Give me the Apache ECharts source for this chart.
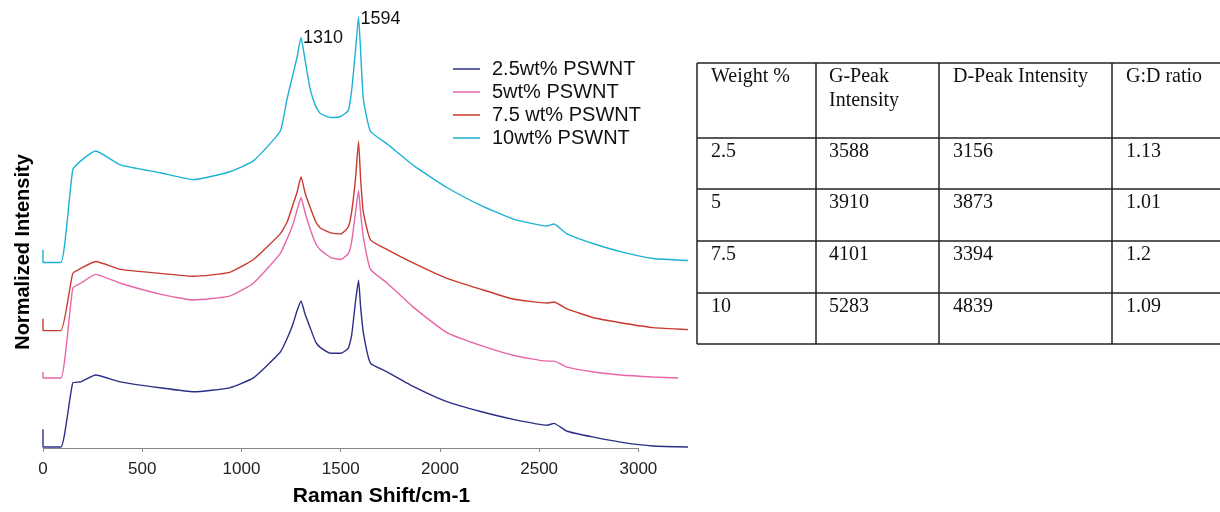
<!DOCTYPE html>
<html>
<head>
<meta charset="utf-8">
<script src="https://cdn.jsdelivr.net/npm/echarts@6/dist/echarts.min.js"></script>
<style>
html,body{margin:0;padding:0;background:#fff;}
#chart{width:1220px;height:512px;}
</style>
</head>
<body>
<div id="chart"></div>
<script>
// Raman shift (cm-1) sample positions
const ramanShift = [0,0,90,150,190,265,390,590,760,940,1060,1195,1230,1260,1280,1300,1320,1346,1375,1397,1450,1500,1538,1555,1575,1590,1600,1614,1650,1735,1870,2035,2205,2370,2540,2575,2640,2775,2910,3075,3250];
const pinkLastShift = 3200;

// Normalized intensity (arbitrary, offset) for each sample
const int2p5 = [19,1,1,66,67,74,67,61,57,61,71,97,111,126,139,149,136,122,107,102,96,96,101,114,149,170,144,117,86,77,62,47,37,29,23,25,17,11,6,2,1];
const int5   = [77,71,71,162,167,176,167,156,150,154,167,197,212,227,241,254,239,222,207,201,193,191,197,209,239,261,239,214,181,167,142,117,104,94,88,88,82,77,74,72,71];
const int7p5 = [131,119,119,177,182,189,181,177,174,178,191,217,229,247,259,275,259,244,229,223,218,217,224,239,274,311,274,239,211,201,187,172,161,151,147,148,141,132,127,122,120];
const int10  = [201,188,188,282,291,301,287,279,272,280,291,321,354,379,396,416,394,364,346,339,335,336,342,362,404,437,404,354,321,308,286,264,246,232,225,227,217,207,199,192,190];

const seriesNames = ['2.5wt% PSWNT','5wt% PSWNT','7.5 wt% PSWNT','10wt% PSWNT'];
const seriesColors = ['#2b2f86','#e866a8','#c8392e','#1bb2d4'];

// peak annotations on the 10wt% curve
const peakShifts = [1300, 1590];
const peakLabels = ['1310', '1594'];

const xTicks = [0,500,1000,1500,2000,2500,3000];
const xMax = 3250;

// table
const tableHeader = [['Weight %'], ['G-Peak','Intensity'], ['D-Peak Intensity'], ['G:D ratio']];
const weights = ['2.5','5','7.5','10'];
const gPeak = ['3588','3910','4101','5283'];
const dPeak = ['3156','3873','3394','4839'];
const gdRatio = ['1.13','1.01','1.2','1.09'];

function pairs(ys, lastX) {
  return ys.map((y, i) => {
    let x = ramanShift[i];
    if (lastX !== undefined && i === ys.length - 1) x = lastX;
    return [x, y];
  });
}

const allData = [pairs(int2p5), pairs(int5, pinkLastShift), pairs(int7p5), pairs(int10)];

const series = allData.map((d, i) => ({
  name: seriesNames[i],
  type: 'line',
  data: d,
  symbol: 'none',
  smooth: 0.15,
  lineStyle: { color: seriesColors[i], width: 1.4 },
  itemStyle: { color: seriesColors[i] },
  emphasis: { disabled: true },
  animation: false
}));

// peak labels as markPoints on the 10wt% series
series[3].markPoint = {
  symbol: 'circle', symbolSize: 0, silent: true, animation: false,
  data: peakShifts.map((s, k) => ({
    coord: [s, int10[ramanShift.indexOf(s)]],
    label: { show: true, formatter: peakLabels[k], position: 'right', distance: 2,
      fontFamily: 'Liberation Sans', fontSize: 18, color: '#111', offset: [0, k === 0 ? 0 : 2] }
  }))
};

// table graphics
const colX = [697, 816, 939, 1112, 1221];
const rowY = [63, 138, 189, 241, 293, 344];
const textX = [711, 829, 953, 1126];
const graphics = [];
const lineStyle = { stroke: '#222', lineWidth: 1.5 };
colX.forEach(x => graphics.push({ type: 'line', shape: { x1: x, y1: rowY[0], x2: x, y2: rowY[rowY.length - 1] }, style: lineStyle, silent: true }));
rowY.forEach(y => graphics.push({ type: 'line', shape: { x1: colX[0], y1: y, x2: colX[colX.length - 1], y2: y }, style: lineStyle, silent: true }));
const cellFont = { fontFamily: 'Liberation Serif', fontSize: 20, fill: '#111' };
tableHeader.forEach((lines, c) => {
  lines.forEach((t, l) => graphics.push({ type: 'text', x: textX[c], y: 77 + l * 24,
    style: Object.assign({ text: t, textAlign: 'left', textVerticalAlign: 'middle' }, cellFont), silent: true }));
});
const cols = [weights, gPeak, dPeak, gdRatio];
cols.forEach((col, c) => col.forEach((t, r) => graphics.push({ type: 'text', x: textX[c], y: rowY[r + 1] + 14,
  style: Object.assign({ text: t, textAlign: 'left', textVerticalAlign: 'middle' }, cellFont), silent: true })));
// y axis title
graphics.push({ type: 'text', x: 23, y: 252, rotation: Math.PI / 2,
  style: { text: 'Normalized Intensity', fontFamily: 'Liberation Sans', fontWeight: 'bold', fontSize: 20, fill: '#000',
    textAlign: 'center', textVerticalAlign: 'middle' }, silent: true });

const chart = echarts.init(document.getElementById('chart'), null, { renderer: 'canvas' });
chart.setOption({
  animation: false,
  backgroundColor: '#fff',
  grid: { left: 43, right: 532, top: 4, bottom: 58, containLabel: false },
  legend: {
    data: seriesNames,
    orient: 'vertical',
    left: 448,
    top: 54,
    icon: 'rect',
    itemWidth: 27,
    itemHeight: 1.5,
    itemGap: 3,
    textStyle: { fontFamily: 'Liberation Sans', fontSize: 20, color: '#111', padding: [0, 0, 0, 7], lineHeight: 19 }
  },
  xAxis: {
    type: 'value',
    min: xTicks[0],
    max: xMax,
    interval: xTicks[1] - xTicks[0],
    name: 'Raman Shift/cm-1',
    nameLocation: 'middle',
    nameGap: 38,
    nameTextStyle: { fontFamily: 'Liberation Sans', fontWeight: 'bold', fontSize: 21, color: '#000', padding: [0, 0, 0, 32] },
    axisLine: { show: false },
    axisTick: { show: true, length: 4, lineStyle: { color: '#888' }, customValues: xTicks },
    axisLabel: { fontFamily: 'Liberation Sans', fontSize: 17, color: '#222', margin: 13, customValues: xTicks,
      formatter: v => (xTicks.indexOf(v) >= 0 ? String(v) : '') },
    splitLine: { show: false }
  },
  yAxis: {
    type: 'value', min: 0, max: 450,
    show: false
  },
  series: series,
  graphic: graphics
});

// axis line spanning the labelled tick range only
const p0 = chart.convertToPixel({ xAxisIndex: 0, yAxisIndex: 0 }, [xTicks[0], 0]);
const p1 = chart.convertToPixel({ xAxisIndex: 0, yAxisIndex: 0 }, [xTicks[xTicks.length - 1], 0]);
graphics.push({ type: 'line', shape: { x1: p0[0], y1: Math.round(p0[1]) + 0.5, x2: p1[0], y2: Math.round(p0[1]) + 0.5 },
  style: { stroke: '#888', lineWidth: 1 }, silent: true, z: -1 });
chart.setOption({ graphic: graphics });
</script>
</body>
</html>
